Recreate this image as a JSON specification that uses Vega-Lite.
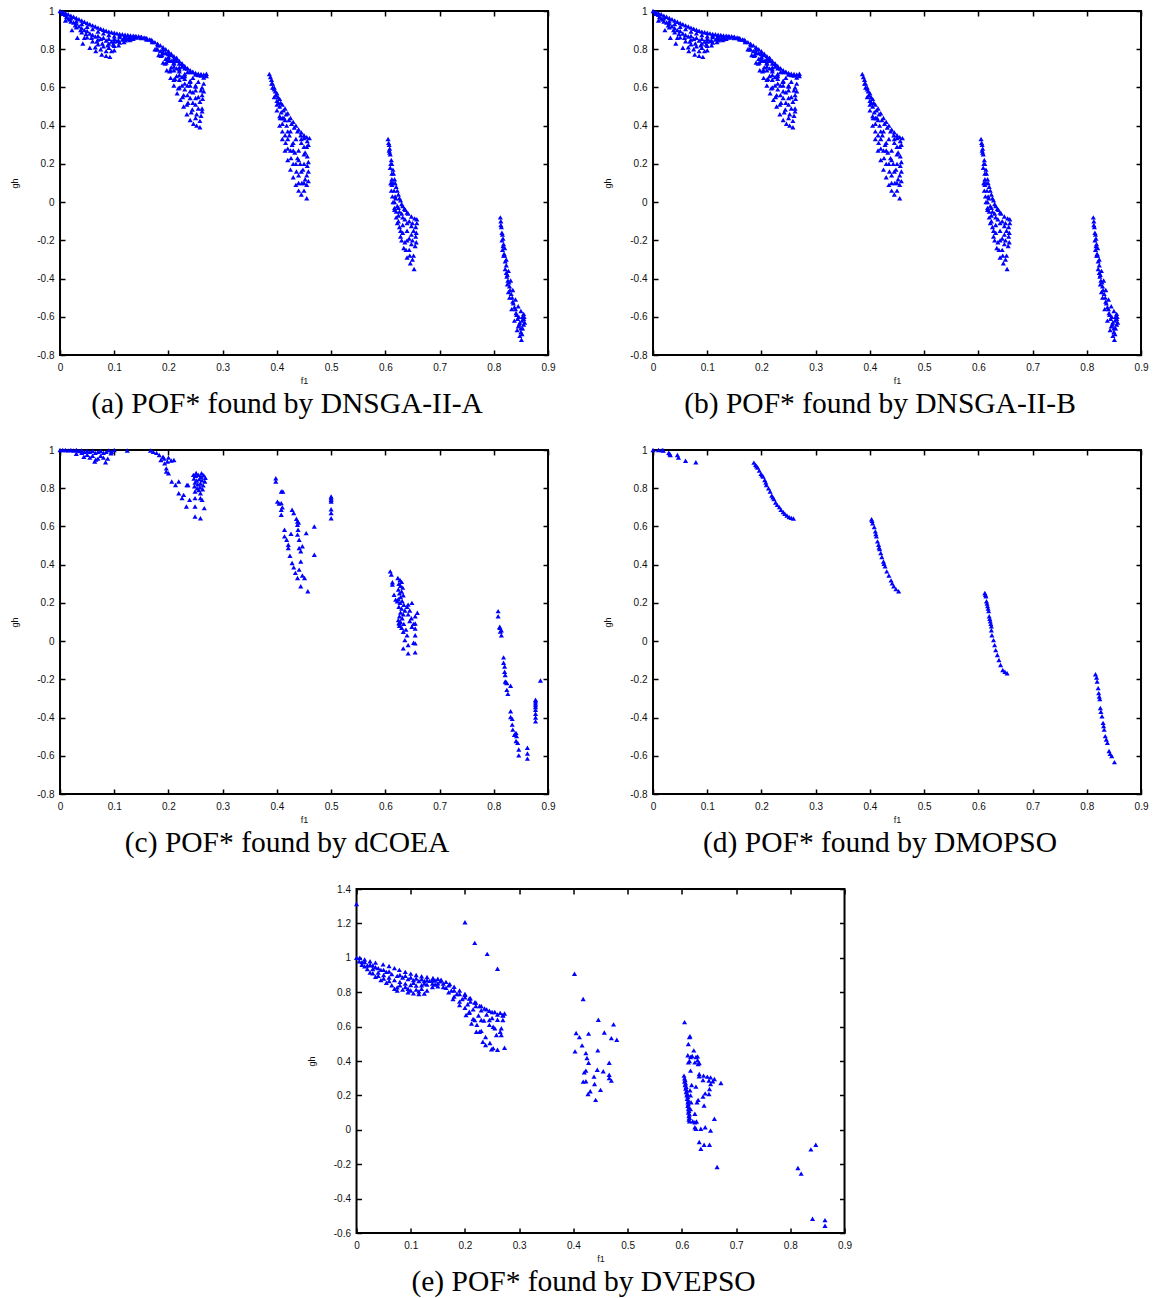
{
"$schema":"https://vega.github.io/schema/vega-lite/v6.json",
"background":"white",
"padding":{"left":9,"top":5,"right":0,"bottom":0},
"spacing":24,
"center":true,
"config":{
 "view":{"stroke":"black","strokeWidth":2},
 "axis":{"domain":false,"grid":false,"tickSize":-5,"tickColor":"black","tickWidth":1.5,"labelFont":"Liberation Sans","labelFontSize":10,"labelColor":"#111","titleFont":"Liberation Sans","titleFontSize":9,"titleFontWeight":"normal","titleColor":"#111","labelFlush":false,"labelOverlap":false},
 "axisX":{"labelPadding":12,"titlePadding":4},
 "axisY":{"labelPadding":11,"titlePadding":17},
 "title":{"font":"Liberation Serif","fontSize":29.5,"fontWeight":"normal","color":"black","anchor":"middle","offset":5,"dx":-17}
},
"datasets":{
"ab":[
{"f1":0,"gh":1},{"f1":0.005,"gh":0.995},{"f1":0.01,"gh":0.99},{"f1":0.015,"gh":0.983},{"f1":0.02,"gh":0.976},{"f1":0.025,"gh":0.97},{"f1":0.03,"gh":0.963},{"f1":0.035,"gh":0.957},{"f1":0.04,"gh":0.95},{"f1":0.045,"gh":0.944},{"f1":0.05,"gh":0.937},{"f1":0.055,"gh":0.931},{"f1":0.06,"gh":0.925},{"f1":0.065,"gh":0.919},{"f1":0.07,"gh":0.913},{"f1":0.075,"gh":0.907},{"f1":0.08,"gh":0.902},{"f1":0.085,"gh":0.897},{"f1":0.09,"gh":0.892},{"f1":0.095,"gh":0.889},{"f1":0.1,"gh":0.886},{"f1":0.105,"gh":0.883},{"f1":0.11,"gh":0.88},{"f1":0.115,"gh":0.878},{"f1":0.12,"gh":0.876},{"f1":0.125,"gh":0.874},{"f1":0.13,"gh":0.872},{"f1":0.135,"gh":0.871},{"f1":0.14,"gh":0.87},{"f1":0.145,"gh":0.868},{"f1":0.15,"gh":0.866},{"f1":0.155,"gh":0.862},{"f1":0.16,"gh":0.857},{"f1":0.165,"gh":0.851},{"f1":0.17,"gh":0.845},{"f1":0.175,"gh":0.837},{"f1":0.18,"gh":0.829},{"f1":0.185,"gh":0.82},{"f1":0.19,"gh":0.81},{"f1":0.195,"gh":0.8},{"f1":0.2,"gh":0.789},{"f1":0.205,"gh":0.777},{"f1":0.21,"gh":0.764},{"f1":0.215,"gh":0.751},{"f1":0.22,"gh":0.738},{"f1":0.225,"gh":0.724},{"f1":0.23,"gh":0.712},{"f1":0.235,"gh":0.7},{"f1":0.24,"gh":0.69},{"f1":0.245,"gh":0.682},{"f1":0.25,"gh":0.676},{"f1":0.255,"gh":0.672},{"f1":0.26,"gh":0.67},{"f1":0.265,"gh":0.668},{"f1":0.27,"gh":0.672},
{"f1":0.01,"gh":0.98},{"f1":0.02,"gh":0.962},{"f1":0.03,"gh":0.946},{"f1":0.04,"gh":0.932},{"f1":0.05,"gh":0.918},{"f1":0.06,"gh":0.905},{"f1":0.07,"gh":0.893},{"f1":0.08,"gh":0.883},{"f1":0.09,"gh":0.874},{"f1":0.1,"gh":0.868},{"f1":0.11,"gh":0.864},{"f1":0.12,"gh":0.862},{"f1":0.13,"gh":0.862},{"f1":0.14,"gh":0.861},{"f1":0.15,"gh":0.858},{"f1":0.16,"gh":0.85},{"f1":0.17,"gh":0.838},{"f1":0.18,"gh":0.82},{"f1":0.19,"gh":0.8},{"f1":0.2,"gh":0.776},{"f1":0.21,"gh":0.75},{"f1":0.22,"gh":0.725},{"f1":0.23,"gh":0.7},{"f1":0.24,"gh":0.68},{"f1":0.25,"gh":0.668},{"f1":0.26,"gh":0.662},{"f1":0.27,"gh":0.66},
{"f1":0.015,"gh":0.96},{"f1":0.025,"gh":0.94},{"f1":0.035,"gh":0.92},{"f1":0.045,"gh":0.9},{"f1":0.055,"gh":0.882},{"f1":0.065,"gh":0.867},{"f1":0.075,"gh":0.855},{"f1":0.085,"gh":0.846},{"f1":0.095,"gh":0.84},{"f1":0.105,"gh":0.843},{"f1":0.115,"gh":0.85},{"f1":0.125,"gh":0.855},{"f1":0.135,"gh":0.855},
{"f1":0.02,"gh":0.945},{"f1":0.03,"gh":0.915},{"f1":0.04,"gh":0.888},{"f1":0.05,"gh":0.862},{"f1":0.06,"gh":0.842},{"f1":0.07,"gh":0.826},{"f1":0.08,"gh":0.815},{"f1":0.09,"gh":0.808},{"f1":0.1,"gh":0.818},{"f1":0.11,"gh":0.835},{"f1":0.12,"gh":0.847},{"f1":0.13,"gh":0.852},
{"f1":0.01,"gh":0.95},{"f1":0.022,"gh":0.9},{"f1":0.032,"gh":0.86},{"f1":0.042,"gh":0.83},{"f1":0.055,"gh":0.808},{"f1":0.066,"gh":0.79},{"f1":0.077,"gh":0.772},{"f1":0.085,"gh":0.765},{"f1":0.092,"gh":0.76},{"f1":0.1,"gh":0.795},{"f1":0.108,"gh":0.82},{"f1":0.118,"gh":0.838},{"f1":0.128,"gh":0.848},
{"f1":0.04,"gh":0.91},{"f1":0.06,"gh":0.875},{"f1":0.08,"gh":0.86},{"f1":0.1,"gh":0.855},{"f1":0.07,"gh":0.85},{"f1":0.09,"gh":0.83},{"f1":0.12,"gh":0.868},{"f1":0.14,"gh":0.864},{"f1":0.05,"gh":0.895},{"f1":0.03,"gh":0.935},{"f1":0.11,"gh":0.872},{"f1":0.16,"gh":0.855},{"f1":0.15,"gh":0.86},
{"f1":0.005,"gh":0.985},{"f1":0.012,"gh":0.97},{"f1":0.018,"gh":0.955},{"f1":0.028,"gh":0.925},{"f1":0.038,"gh":0.9},{"f1":0.048,"gh":0.88},{"f1":0.058,"gh":0.86},{"f1":0.068,"gh":0.84},{"f1":0.078,"gh":0.83},{"f1":0.088,"gh":0.82},{"f1":0.098,"gh":0.825},{"f1":0.108,"gh":0.845},{"f1":0.118,"gh":0.858},{"f1":0.128,"gh":0.864},{"f1":0.138,"gh":0.866},{"f1":0.148,"gh":0.862},{"f1":0.158,"gh":0.858},{"f1":0.168,"gh":0.85},{"f1":0.045,"gh":0.86},{"f1":0.065,"gh":0.81},{"f1":0.075,"gh":0.8},{"f1":0.085,"gh":0.79},{"f1":0.095,"gh":0.79},{"f1":0.07,"gh":0.87},{"f1":0.09,"gh":0.855},{"f1":0.1,"gh":0.84},
{"f1":0.175,"gh":0.8},{"f1":0.182,"gh":0.77},{"f1":0.19,"gh":0.73},{"f1":0.197,"gh":0.69},{"f1":0.204,"gh":0.65},{"f1":0.21,"gh":0.61},{"f1":0.216,"gh":0.57},{"f1":0.222,"gh":0.535},{"f1":0.228,"gh":0.5},{"f1":0.234,"gh":0.46},{"f1":0.24,"gh":0.43},{"f1":0.246,"gh":0.41},{"f1":0.252,"gh":0.4},{"f1":0.258,"gh":0.392},
{"f1":0.178,"gh":0.8},{"f1":0.186,"gh":0.765},{"f1":0.194,"gh":0.725},{"f1":0.202,"gh":0.685},{"f1":0.21,"gh":0.64},{"f1":0.218,"gh":0.595},{"f1":0.226,"gh":0.55},{"f1":0.234,"gh":0.51},{"f1":0.242,"gh":0.47},{"f1":0.25,"gh":0.44},{"f1":0.258,"gh":0.425},
{"f1":0.18,"gh":0.8},{"f1":0.188,"gh":0.77},{"f1":0.196,"gh":0.73},{"f1":0.204,"gh":0.69},{"f1":0.212,"gh":0.645},{"f1":0.22,"gh":0.6},{"f1":0.228,"gh":0.56},{"f1":0.236,"gh":0.52},{"f1":0.244,"gh":0.485},{"f1":0.252,"gh":0.46},{"f1":0.26,"gh":0.452},
{"f1":0.185,"gh":0.79},{"f1":0.195,"gh":0.75},{"f1":0.205,"gh":0.705},{"f1":0.215,"gh":0.66},{"f1":0.225,"gh":0.61},{"f1":0.235,"gh":0.56},{"f1":0.245,"gh":0.52},{"f1":0.255,"gh":0.49},{"f1":0.262,"gh":0.475},
{"f1":0.19,"gh":0.78},{"f1":0.2,"gh":0.74},{"f1":0.21,"gh":0.69},{"f1":0.22,"gh":0.64},{"f1":0.23,"gh":0.59},{"f1":0.24,"gh":0.545},{"f1":0.25,"gh":0.51},{"f1":0.262,"gh":0.49},
{"f1":0.19,"gh":0.785},{"f1":0.2,"gh":0.75},{"f1":0.21,"gh":0.71},{"f1":0.22,"gh":0.665},{"f1":0.23,"gh":0.62},{"f1":0.24,"gh":0.58},{"f1":0.25,"gh":0.545},{"f1":0.258,"gh":0.525},
{"f1":0.195,"gh":0.78},{"f1":0.205,"gh":0.74},{"f1":0.215,"gh":0.7},{"f1":0.225,"gh":0.655},{"f1":0.235,"gh":0.61},{"f1":0.245,"gh":0.575},{"f1":0.255,"gh":0.55},{"f1":0.263,"gh":0.54},
{"f1":0.2,"gh":0.76},{"f1":0.21,"gh":0.725},{"f1":0.22,"gh":0.685},{"f1":0.23,"gh":0.645},{"f1":0.24,"gh":0.61},{"f1":0.25,"gh":0.585},{"f1":0.262,"gh":0.56},
{"f1":0.2,"gh":0.775},{"f1":0.21,"gh":0.74},{"f1":0.22,"gh":0.705},{"f1":0.23,"gh":0.67},{"f1":0.24,"gh":0.635},{"f1":0.25,"gh":0.605},{"f1":0.26,"gh":0.585},{"f1":0.265,"gh":0.58},
{"f1":0.21,"gh":0.73},{"f1":0.22,"gh":0.695},{"f1":0.23,"gh":0.66},{"f1":0.24,"gh":0.63},{"f1":0.25,"gh":0.61},{"f1":0.262,"gh":0.6},
{"f1":0.205,"gh":0.77},{"f1":0.215,"gh":0.74},{"f1":0.225,"gh":0.71},{"f1":0.235,"gh":0.68},{"f1":0.245,"gh":0.65},{"f1":0.255,"gh":0.63},{"f1":0.265,"gh":0.62},
{"f1":0.215,"gh":0.755},{"f1":0.225,"gh":0.725},{"f1":0.235,"gh":0.7},{"f1":0.245,"gh":0.68},{"f1":0.255,"gh":0.665},{"f1":0.265,"gh":0.652},
{"f1":0.386,"gh":0.67},{"f1":0.39,"gh":0.64},{"f1":0.395,"gh":0.6},{"f1":0.4,"gh":0.57},{"f1":0.405,"gh":0.54},{"f1":0.41,"gh":0.51},{"f1":0.415,"gh":0.49},{"f1":0.42,"gh":0.465},{"f1":0.425,"gh":0.44},{"f1":0.43,"gh":0.42},{"f1":0.435,"gh":0.4},{"f1":0.44,"gh":0.38},{"f1":0.445,"gh":0.365},{"f1":0.45,"gh":0.35},{"f1":0.455,"gh":0.34},{"f1":0.46,"gh":0.335},
{"f1":0.388,"gh":0.655},{"f1":0.392,"gh":0.62},{"f1":0.397,"gh":0.58},{"f1":0.402,"gh":0.55},{"f1":0.407,"gh":0.52},{"f1":0.412,"gh":0.48},{"f1":0.417,"gh":0.46},{"f1":0.422,"gh":0.43},{"f1":0.427,"gh":0.41},{"f1":0.432,"gh":0.39},{"f1":0.438,"gh":0.37},{"f1":0.444,"gh":0.35},{"f1":0.45,"gh":0.335},{"f1":0.456,"gh":0.32},
{"f1":0.392,"gh":0.6},{"f1":0.398,"gh":0.56},{"f1":0.403,"gh":0.52},{"f1":0.408,"gh":0.47},{"f1":0.413,"gh":0.44},{"f1":0.418,"gh":0.4},{"f1":0.423,"gh":0.35},{"f1":0.428,"gh":0.3},{"f1":0.433,"gh":0.26},{"f1":0.438,"gh":0.23},{"f1":0.443,"gh":0.2},{"f1":0.448,"gh":0.17},{"f1":0.452,"gh":0.12},{"f1":0.446,"gh":0.1},{"f1":0.436,"gh":0.16},{"f1":0.426,"gh":0.23},{"f1":0.416,"gh":0.31},{"f1":0.406,"gh":0.44},{"f1":0.45,"gh":0.29},{"f1":0.445,"gh":0.33},{"f1":0.452,"gh":0.26},{"f1":0.458,"gh":0.3},{"f1":0.458,"gh":0.21},{"f1":0.458,"gh":0.16},{"f1":0.458,"gh":0.11},{"f1":0.45,"gh":0.06},{"f1":0.44,"gh":0.1},
{"f1":0.39,"gh":0.62},{"f1":0.395,"gh":0.55},{"f1":0.4,"gh":0.48},{"f1":0.405,"gh":0.4},{"f1":0.41,"gh":0.33},{"f1":0.415,"gh":0.27},{"f1":0.42,"gh":0.22},{"f1":0.425,"gh":0.17},{"f1":0.43,"gh":0.13},{"f1":0.435,"gh":0.09},{"f1":0.44,"gh":0.06},{"f1":0.445,"gh":0.04},{"f1":0.455,"gh":0.02},
{"f1":0.395,"gh":0.59},{"f1":0.405,"gh":0.5},{"f1":0.415,"gh":0.43},{"f1":0.425,"gh":0.37},{"f1":0.435,"gh":0.33},{"f1":0.445,"gh":0.31},{"f1":0.455,"gh":0.29},
{"f1":0.4,"gh":0.53},{"f1":0.41,"gh":0.44},{"f1":0.42,"gh":0.37},{"f1":0.43,"gh":0.31},{"f1":0.44,"gh":0.27},{"f1":0.45,"gh":0.25},{"f1":0.456,"gh":0.24},
{"f1":0.4,"gh":0.51},{"f1":0.41,"gh":0.41},{"f1":0.42,"gh":0.33},{"f1":0.43,"gh":0.27},{"f1":0.44,"gh":0.22},{"f1":0.45,"gh":0.2},{"f1":0.456,"gh":0.19},
{"f1":0.405,"gh":0.45},{"f1":0.415,"gh":0.35},{"f1":0.425,"gh":0.27},{"f1":0.435,"gh":0.2},{"f1":0.445,"gh":0.16},{"f1":0.455,"gh":0.14},
{"f1":0.41,"gh":0.37},{"f1":0.42,"gh":0.28},{"f1":0.43,"gh":0.2},{"f1":0.44,"gh":0.14},{"f1":0.45,"gh":0.1},{"f1":0.455,"gh":0.09},
{"f1":0.605,"gh":0.33},{"f1":0.608,"gh":0.28},{"f1":0.611,"gh":0.22},{"f1":0.614,"gh":0.17},{"f1":0.617,"gh":0.12},{"f1":0.62,"gh":0.08},{"f1":0.624,"gh":0.04},{"f1":0.628,"gh":0.01},{"f1":0.632,"gh":-0.02},{"f1":0.637,"gh":-0.04},{"f1":0.642,"gh":-0.06},{"f1":0.648,"gh":-0.075},{"f1":0.654,"gh":-0.085},{"f1":0.658,"gh":-0.09},
{"f1":0.607,"gh":0.3},{"f1":0.609,"gh":0.25},{"f1":0.612,"gh":0.2},{"f1":0.615,"gh":0.15},{"f1":0.618,"gh":0.1},{"f1":0.622,"gh":0.06},{"f1":0.626,"gh":0.02},{"f1":0.63,"gh":-0.01},{"f1":0.635,"gh":-0.035},{"f1":0.64,"gh":-0.055},
{"f1":0.606,"gh":0.31},{"f1":0.608,"gh":0.26},{"f1":0.61,"gh":0.2},{"f1":0.612,"gh":0.15},{"f1":0.614,"gh":0.1},{"f1":0.616,"gh":0.06},{"f1":0.619,"gh":0.02},{"f1":0.622,"gh":-0.02},{"f1":0.626,"gh":-0.05},{"f1":0.63,"gh":-0.06},{"f1":0.636,"gh":-0.09},{"f1":0.644,"gh":-0.1},{"f1":0.65,"gh":-0.11},{"f1":0.652,"gh":-0.15},{"f1":0.65,"gh":-0.2},{"f1":0.657,"gh":-0.16},{"f1":0.657,"gh":-0.21},{"f1":0.645,"gh":-0.28},{"f1":0.65,"gh":-0.3},{"f1":0.638,"gh":-0.25},{"f1":0.626,"gh":-0.13},{"f1":0.62,"gh":-0.05},{"f1":0.63,"gh":-0.2},{"f1":0.644,"gh":-0.19},{"f1":0.658,"gh":-0.11},
{"f1":0.607,"gh":0.27},{"f1":0.609,"gh":0.18},{"f1":0.611,"gh":0.1},{"f1":0.613,"gh":0.03},{"f1":0.617,"gh":-0.04},{"f1":0.622,"gh":-0.11},{"f1":0.628,"gh":-0.18},{"f1":0.634,"gh":-0.24},{"f1":0.64,"gh":-0.29},{"f1":0.646,"gh":-0.32},{"f1":0.653,"gh":-0.35},
{"f1":0.612,"gh":0.12},{"f1":0.618,"gh":0.03},{"f1":0.624,"gh":-0.03},{"f1":0.632,"gh":-0.08},{"f1":0.64,"gh":-0.11},{"f1":0.648,"gh":-0.125},{"f1":0.656,"gh":-0.13},
{"f1":0.612,"gh":0.09},{"f1":0.617,"gh":0.0},{"f1":0.624,"gh":-0.07},{"f1":0.632,"gh":-0.12},{"f1":0.64,"gh":-0.15},{"f1":0.648,"gh":-0.17},{"f1":0.656,"gh":-0.18},
{"f1":0.611,"gh":0.06},{"f1":0.617,"gh":-0.03},{"f1":0.624,"gh":-0.1},{"f1":0.632,"gh":-0.16},{"f1":0.64,"gh":-0.2},{"f1":0.648,"gh":-0.22},{"f1":0.655,"gh":-0.23},
{"f1":0.61,"gh":0.1},{"f1":0.614,"gh":0.0},{"f1":0.62,"gh":-0.08},{"f1":0.628,"gh":-0.15},{"f1":0.636,"gh":-0.21},{"f1":0.644,"gh":-0.25},{"f1":0.652,"gh":-0.28},
{"f1":0.812,"gh":-0.08},{"f1":0.814,"gh":-0.13},{"f1":0.817,"gh":-0.19},{"f1":0.82,"gh":-0.24},{"f1":0.823,"gh":-0.3},{"f1":0.827,"gh":-0.36},{"f1":0.831,"gh":-0.41},{"f1":0.835,"gh":-0.46},{"f1":0.84,"gh":-0.51},{"f1":0.845,"gh":-0.545},{"f1":0.85,"gh":-0.57},{"f1":0.855,"gh":-0.585},
{"f1":0.813,"gh":-0.12},{"f1":0.815,"gh":-0.2},{"f1":0.818,"gh":-0.28},{"f1":0.821,"gh":-0.35},{"f1":0.825,"gh":-0.43},{"f1":0.829,"gh":-0.5},{"f1":0.833,"gh":-0.56},{"f1":0.838,"gh":-0.62},{"f1":0.843,"gh":-0.67},{"f1":0.848,"gh":-0.7},{"f1":0.851,"gh":-0.72},
{"f1":0.816,"gh":-0.17},{"f1":0.82,"gh":-0.28},{"f1":0.825,"gh":-0.38},{"f1":0.83,"gh":-0.46},{"f1":0.836,"gh":-0.53},{"f1":0.842,"gh":-0.59},{"f1":0.848,"gh":-0.63},{"f1":0.853,"gh":-0.66},
{"f1":0.818,"gh":-0.22},{"f1":0.823,"gh":-0.33},{"f1":0.828,"gh":-0.42},{"f1":0.834,"gh":-0.5},{"f1":0.84,"gh":-0.56},{"f1":0.846,"gh":-0.6},{"f1":0.852,"gh":-0.62},
{"f1":0.845,"gh":-0.65},{"f1":0.85,"gh":-0.68},{"f1":0.855,"gh":-0.64},{"f1":0.855,"gh":-0.61},
{"f1":0.813,"gh":-0.1},{"f1":0.815,"gh":-0.16},{"f1":0.817,"gh":-0.23},{"f1":0.819,"gh":-0.27},{"f1":0.821,"gh":-0.31},{"f1":0.823,"gh":-0.37},{"f1":0.826,"gh":-0.41},{"f1":0.829,"gh":-0.44},{"f1":0.832,"gh":-0.48},{"f1":0.835,"gh":-0.52},{"f1":0.838,"gh":-0.55},{"f1":0.841,"gh":-0.58},{"f1":0.844,"gh":-0.61},{"f1":0.847,"gh":-0.64},{"f1":0.85,"gh":-0.66},{"f1":0.853,"gh":-0.6},{"f1":0.856,"gh":-0.6},{"f1":0.857,"gh":-0.63},{"f1":0.852,"gh":-0.69},{"f1":0.824,"gh":-0.39},{"f1":0.827,"gh":-0.47},{"f1":0.816,"gh":-0.25}
],
"c":[
{"f1":0,"gh":1},{"f1":0.005,"gh":1},{"f1":0.01,"gh":1},{"f1":0.015,"gh":0.998},{"f1":0.02,"gh":1},{"f1":0.025,"gh":0.997},{"f1":0.03,"gh":1},{"f1":0.035,"gh":0.995},{"f1":0.04,"gh":0.998},{"f1":0.045,"gh":0.99},{"f1":0.05,"gh":0.995},{"f1":0.055,"gh":0.99},{"f1":0.06,"gh":0.996},{"f1":0.065,"gh":0.985},{"f1":0.07,"gh":0.99},{"f1":0.075,"gh":0.995},{"f1":0.08,"gh":0.985},{"f1":0.085,"gh":0.99},{"f1":0.09,"gh":0.998},{"f1":0.095,"gh":0.99},{"f1":0.03,"gh":0.98},{"f1":0.044,"gh":0.965},{"f1":0.05,"gh":0.975},{"f1":0.055,"gh":0.96},{"f1":0.06,"gh":0.97},{"f1":0.064,"gh":0.94},{"f1":0.07,"gh":0.955},{"f1":0.075,"gh":0.97},{"f1":0.08,"gh":0.96},{"f1":0.084,"gh":0.936},{"f1":0.088,"gh":0.955},{"f1":0.094,"gh":0.983},{"f1":0.04,"gh":0.985},{"f1":0.066,"gh":0.95},{"f1":0.1,"gh":1},{"f1":0.124,"gh":0.997},
{"f1":0.167,"gh":0.997},{"f1":0.172,"gh":0.99},{"f1":0.178,"gh":0.985},{"f1":0.183,"gh":0.974},{"f1":0.19,"gh":0.965},{"f1":0.186,"gh":0.948},{"f1":0.192,"gh":0.955},{"f1":0.21,"gh":0.948},{"f1":0.193,"gh":0.93},{"f1":0.196,"gh":0.904},{"f1":0.2,"gh":0.878},{"f1":0.198,"gh":0.94},{"f1":0.2,"gh":0.96},{"f1":0.206,"gh":0.835},{"f1":0.213,"gh":0.817},{"f1":0.219,"gh":0.835},{"f1":0.219,"gh":0.774},{"f1":0.225,"gh":0.748},{"f1":0.233,"gh":0.704},{"f1":0.236,"gh":0.817},{"f1":0.239,"gh":0.739},{"f1":0.205,"gh":0.945},{"f1":0.196,"gh":0.887},{"f1":0.228,"gh":0.765},{"f1":0.234,"gh":0.817},
{"f1":0.246,"gh":0.87},{"f1":0.25,"gh":0.865},{"f1":0.255,"gh":0.87},{"f1":0.26,"gh":0.86},{"f1":0.265,"gh":0.868},{"f1":0.268,"gh":0.855},{"f1":0.247,"gh":0.85},{"f1":0.252,"gh":0.84},{"f1":0.257,"gh":0.848},{"f1":0.262,"gh":0.842},{"f1":0.267,"gh":0.835},{"f1":0.249,"gh":0.83},{"f1":0.254,"gh":0.82},{"f1":0.259,"gh":0.825},{"f1":0.264,"gh":0.815},{"f1":0.248,"gh":0.81},{"f1":0.253,"gh":0.8},{"f1":0.258,"gh":0.805},{"f1":0.263,"gh":0.795},{"f1":0.249,"gh":0.783},{"f1":0.259,"gh":0.774},{"f1":0.249,"gh":0.748},{"f1":0.259,"gh":0.748},{"f1":0.262,"gh":0.739},{"f1":0.249,"gh":0.704},{"f1":0.266,"gh":0.696},{"f1":0.249,"gh":0.652},{"f1":0.259,"gh":0.643},{"f1":0.256,"gh":0.79},{"f1":0.251,"gh":0.88},{"f1":0.261,"gh":0.878},
{"f1":0.398,"gh":0.852},{"f1":0.398,"gh":0.835},{"f1":0.408,"gh":0.783},{"f1":0.411,"gh":0.783},{"f1":0.401,"gh":0.73},{"f1":0.408,"gh":0.722},{"f1":0.408,"gh":0.687},{"f1":0.408,"gh":0.661},{"f1":0.414,"gh":0.583},{"f1":0.414,"gh":0.548},{"f1":0.418,"gh":0.53},{"f1":0.421,"gh":0.504},{"f1":0.421,"gh":0.487},{"f1":0.424,"gh":0.447},{"f1":0.428,"gh":0.409},{"f1":0.431,"gh":0.386},{"f1":0.434,"gh":0.357},{"f1":0.438,"gh":0.33},{"f1":0.444,"gh":0.287},{"f1":0.457,"gh":0.261},{"f1":0.428,"gh":0.687},{"f1":0.431,"gh":0.67},{"f1":0.426,"gh":0.562},{"f1":0.438,"gh":0.626},{"f1":0.438,"gh":0.609},{"f1":0.439,"gh":0.583},{"f1":0.438,"gh":0.557},{"f1":0.441,"gh":0.53},{"f1":0.441,"gh":0.487},{"f1":0.444,"gh":0.47},{"f1":0.447,"gh":0.496},{"f1":0.444,"gh":0.417},{"f1":0.441,"gh":0.374},{"f1":0.447,"gh":0.343},{"f1":0.451,"gh":0.33},{"f1":0.454,"gh":0.565},{"f1":0.469,"gh":0.6},{"f1":0.469,"gh":0.452},{"f1":0.436,"gh":0.64},{"f1":0.44,"gh":0.62},{"f1":0.404,"gh":0.72},{"f1":0.41,"gh":0.7},
{"f1":0.5,"gh":0.757},{"f1":0.5,"gh":0.748},{"f1":0.5,"gh":0.73},{"f1":0.5,"gh":0.69},{"f1":0.5,"gh":0.67},{"f1":0.5,"gh":0.643},{"f1":0.5,"gh":0.74},
{"f1":0.623,"gh":0.33},{"f1":0.627,"gh":0.32},{"f1":0.63,"gh":0.31},{"f1":0.625,"gh":0.3},{"f1":0.628,"gh":0.29},{"f1":0.632,"gh":0.28},{"f1":0.624,"gh":0.27},{"f1":0.63,"gh":0.26},{"f1":0.626,"gh":0.25},{"f1":0.633,"gh":0.24},{"f1":0.628,"gh":0.23},{"f1":0.624,"gh":0.22},{"f1":0.631,"gh":0.21},{"f1":0.627,"gh":0.2},{"f1":0.634,"gh":0.19},{"f1":0.625,"gh":0.18},{"f1":0.63,"gh":0.17},{"f1":0.636,"gh":0.16},{"f1":0.628,"gh":0.15},{"f1":0.633,"gh":0.14},{"f1":0.626,"gh":0.13},{"f1":0.631,"gh":0.12},{"f1":0.624,"gh":0.11},{"f1":0.628,"gh":0.1},{"f1":0.634,"gh":0.09},{"f1":0.626,"gh":0.08},{"f1":0.63,"gh":0.07},{"f1":0.625,"gh":0.095},{"f1":0.64,"gh":0.18},{"f1":0.645,"gh":0.16},{"f1":0.642,"gh":0.14},{"f1":0.648,"gh":0.12},{"f1":0.645,"gh":0.105},{"f1":0.652,"gh":0.09},
{"f1":0.609,"gh":0.365},{"f1":0.611,"gh":0.348},{"f1":0.613,"gh":0.308},{"f1":0.613,"gh":0.296},{"f1":0.616,"gh":0.243},{"f1":0.619,"gh":0.217},{"f1":0.622,"gh":0.209},{"f1":0.642,"gh":0.191},{"f1":0.659,"gh":0.148},{"f1":0.655,"gh":0.13},{"f1":0.649,"gh":0.2},
{"f1":0.626,"gh":0.092},{"f1":0.633,"gh":0.049},{"f1":0.636,"gh":0.005},{"f1":0.633,"gh":-0.038},{"f1":0.642,"gh":-0.021},{"f1":0.642,"gh":-0.064},{"f1":0.649,"gh":0.075},{"f1":0.655,"gh":0.092},{"f1":0.655,"gh":0.066},{"f1":0.655,"gh":0.031},{"f1":0.652,"gh":-0.009},{"f1":0.655,"gh":-0.012},{"f1":0.655,"gh":-0.059},{"f1":0.64,"gh":0.03},{"f1":0.638,"gh":0.06},
{"f1":0.808,"gh":0.157},{"f1":0.808,"gh":0.13},{"f1":0.811,"gh":0.07},{"f1":0.811,"gh":0.075},{"f1":0.814,"gh":0.057},{"f1":0.814,"gh":0.031},{"f1":0.812,"gh":0.05},{"f1":0.818,"gh":-0.085},{"f1":0.818,"gh":-0.113},{"f1":0.82,"gh":-0.133},{"f1":0.82,"gh":-0.16},{"f1":0.821,"gh":-0.177},{"f1":0.821,"gh":-0.211},{"f1":0.824,"gh":-0.22},{"f1":0.824,"gh":-0.255},{"f1":0.826,"gh":-0.276},{"f1":0.831,"gh":-0.234},{"f1":0.831,"gh":-0.367},{"f1":0.831,"gh":-0.397},{"f1":0.834,"gh":-0.407},{"f1":0.834,"gh":-0.437},{"f1":0.835,"gh":-0.463},{"f1":0.839,"gh":-0.489},{"f1":0.841,"gh":-0.48},{"f1":0.842,"gh":-0.497},{"f1":0.844,"gh":-0.532},{"f1":0.841,"gh":-0.523},{"f1":0.846,"gh":-0.567},{"f1":0.846,"gh":-0.598},{"f1":0.862,"gh":-0.558},{"f1":0.862,"gh":-0.588},{"f1":0.862,"gh":-0.615},{"f1":0.823,"gh":-0.215},{"f1":0.838,"gh":-0.49},
{"f1":0.877,"gh":-0.307},{"f1":0.877,"gh":-0.315},{"f1":0.877,"gh":-0.325},{"f1":0.877,"gh":-0.335},{"f1":0.877,"gh":-0.345},{"f1":0.877,"gh":-0.36},{"f1":0.877,"gh":-0.38},{"f1":0.877,"gh":-0.4},{"f1":0.877,"gh":-0.42},{"f1":0.886,"gh":-0.206}
],
"d":[
{"f1":0,"gh":1},{"f1":0.01,"gh":1},{"f1":0.017,"gh":1},{"f1":0.019,"gh":0.997},{"f1":0.029,"gh":0.986},{"f1":0.031,"gh":0.979},{"f1":0.032,"gh":0.974},{"f1":0.045,"gh":0.974},{"f1":0.047,"gh":0.96},{"f1":0.06,"gh":0.944},{"f1":0.079,"gh":0.936},
{"f1":0.186,"gh":0.934},{"f1":0.189,"gh":0.922},{"f1":0.191,"gh":0.915},{"f1":0.193,"gh":0.908},{"f1":0.196,"gh":0.892},{"f1":0.199,"gh":0.875},{"f1":0.201,"gh":0.868},{"f1":0.203,"gh":0.861},{"f1":0.206,"gh":0.843},{"f1":0.208,"gh":0.83},{"f1":0.209,"gh":0.817},{"f1":0.213,"gh":0.8},{"f1":0.216,"gh":0.783},{"f1":0.219,"gh":0.762},{"f1":0.221,"gh":0.752},{"f1":0.223,"gh":0.743},{"f1":0.226,"gh":0.725},{"f1":0.229,"gh":0.713},{"f1":0.233,"gh":0.701},{"f1":0.236,"gh":0.687},{"f1":0.24,"gh":0.676},{"f1":0.243,"gh":0.666},{"f1":0.247,"gh":0.657},{"f1":0.251,"gh":0.649},{"f1":0.255,"gh":0.645},{"f1":0.259,"gh":0.642},
{"f1":0.403,"gh":0.638},{"f1":0.405,"gh":0.617},{"f1":0.408,"gh":0.597},{"f1":0.41,"gh":0.574},{"f1":0.412,"gh":0.548},{"f1":0.414,"gh":0.522},{"f1":0.416,"gh":0.504},{"f1":0.418,"gh":0.482},{"f1":0.42,"gh":0.461},{"f1":0.422,"gh":0.44},{"f1":0.425,"gh":0.417},{"f1":0.428,"gh":0.391},{"f1":0.431,"gh":0.365},{"f1":0.435,"gh":0.343},{"f1":0.439,"gh":0.318},{"f1":0.441,"gh":0.302},{"f1":0.444,"gh":0.287},{"f1":0.448,"gh":0.272},{"f1":0.453,"gh":0.261},{"f1":0.404,"gh":0.63},{"f1":0.411,"gh":0.56},{"f1":0.417,"gh":0.49},{"f1":0.426,"gh":0.405},
{"f1":0.612,"gh":0.252},{"f1":0.613,"gh":0.243},{"f1":0.614,"gh":0.235},{"f1":0.615,"gh":0.209},{"f1":0.616,"gh":0.196},{"f1":0.617,"gh":0.183},{"f1":0.619,"gh":0.157},{"f1":0.62,"gh":0.13},{"f1":0.622,"gh":0.104},{"f1":0.624,"gh":0.078},{"f1":0.624,"gh":0.057},{"f1":0.625,"gh":0.031},{"f1":0.628,"gh":0.005},{"f1":0.63,"gh":-0.021},{"f1":0.632,"gh":-0.047},{"f1":0.635,"gh":-0.073},{"f1":0.638,"gh":-0.099},{"f1":0.641,"gh":-0.125},{"f1":0.645,"gh":-0.151},{"f1":0.649,"gh":-0.16},{"f1":0.653,"gh":-0.168},{"f1":0.621,"gh":0.117},{"f1":0.618,"gh":0.17},{"f1":0.623,"gh":0.09},
{"f1":0.816,"gh":-0.173},{"f1":0.818,"gh":-0.19},{"f1":0.819,"gh":-0.211},{"f1":0.821,"gh":-0.246},{"f1":0.822,"gh":-0.272},{"f1":0.823,"gh":-0.29},{"f1":0.824,"gh":-0.303},{"f1":0.825,"gh":-0.35},{"f1":0.826,"gh":-0.37},{"f1":0.828,"gh":-0.393},{"f1":0.83,"gh":-0.428},{"f1":0.831,"gh":-0.445},{"f1":0.832,"gh":-0.463},{"f1":0.834,"gh":-0.497},{"f1":0.836,"gh":-0.515},{"f1":0.838,"gh":-0.532},{"f1":0.841,"gh":-0.575},{"f1":0.843,"gh":-0.59},{"f1":0.846,"gh":-0.601},{"f1":0.851,"gh":-0.633}
],
"e":[
{"f1":0,"gh":1.313},{"f1":0.2,"gh":1.207},{"f1":0.218,"gh":1.087},{"f1":0.241,"gh":1.023},{"f1":0.26,"gh":0.936},
{"f1":0,"gh":1.0},{"f1":0.006,"gh":1.0},{"f1":0.015,"gh":0.99},{"f1":0.025,"gh":0.98},{"f1":0.035,"gh":0.972},{"f1":0.049,"gh":0.962},{"f1":0.06,"gh":0.952},{"f1":0.07,"gh":0.94},{"f1":0.079,"gh":0.93},{"f1":0.09,"gh":0.918},{"f1":0.1,"gh":0.908},{"f1":0.11,"gh":0.9},{"f1":0.12,"gh":0.893},{"f1":0.13,"gh":0.888},{"f1":0.141,"gh":0.883},{"f1":0.15,"gh":0.878},{"f1":0.156,"gh":0.872},{"f1":0.165,"gh":0.86},{"f1":0.172,"gh":0.848},{"f1":0.18,"gh":0.832},{"f1":0.19,"gh":0.81},{"f1":0.2,"gh":0.785},{"f1":0.208,"gh":0.763},{"f1":0.218,"gh":0.74},{"f1":0.227,"gh":0.72},{"f1":0.236,"gh":0.705},{"f1":0.245,"gh":0.692},{"f1":0.255,"gh":0.685},{"f1":0.265,"gh":0.68},{"f1":0.273,"gh":0.676},
{"f1":0.005,"gh":0.98},{"f1":0.015,"gh":0.95},{"f1":0.025,"gh":0.915},{"f1":0.035,"gh":0.89},{"f1":0.045,"gh":0.87},{"f1":0.055,"gh":0.855},{"f1":0.065,"gh":0.84},{"f1":0.075,"gh":0.828},{"f1":0.085,"gh":0.815},{"f1":0.095,"gh":0.8},{"f1":0.105,"gh":0.793},{"f1":0.115,"gh":0.79},{"f1":0.125,"gh":0.792},{"f1":0.13,"gh":0.81},{"f1":0.14,"gh":0.83},{"f1":0.15,"gh":0.835},{"f1":0.16,"gh":0.83},
{"f1":0.01,"gh":0.975},{"f1":0.02,"gh":0.955},{"f1":0.03,"gh":0.935},{"f1":0.04,"gh":0.915},{"f1":0.05,"gh":0.9},{"f1":0.06,"gh":0.885},{"f1":0.07,"gh":0.87},{"f1":0.08,"gh":0.86},{"f1":0.09,"gh":0.85},{"f1":0.1,"gh":0.842},{"f1":0.11,"gh":0.838},{"f1":0.12,"gh":0.84},{"f1":0.13,"gh":0.845},{"f1":0.14,"gh":0.85},{"f1":0.15,"gh":0.852},{"f1":0.16,"gh":0.85},{"f1":0.17,"gh":0.84},
{"f1":0.015,"gh":0.975},{"f1":0.025,"gh":0.96},{"f1":0.035,"gh":0.945},{"f1":0.045,"gh":0.93},{"f1":0.055,"gh":0.918},{"f1":0.065,"gh":0.905},{"f1":0.075,"gh":0.895},{"f1":0.085,"gh":0.885},{"f1":0.095,"gh":0.876},{"f1":0.105,"gh":0.87},{"f1":0.115,"gh":0.865},{"f1":0.125,"gh":0.865},{"f1":0.135,"gh":0.866},{"f1":0.145,"gh":0.868},{"f1":0.155,"gh":0.864},
{"f1":0.01,"gh":0.96},{"f1":0.02,"gh":0.935},{"f1":0.03,"gh":0.91},{"f1":0.04,"gh":0.895},{"f1":0.05,"gh":0.88},{"f1":0.06,"gh":0.865},{"f1":0.03,"gh":0.955},{"f1":0.04,"gh":0.94},{"f1":0.05,"gh":0.93},{"f1":0.06,"gh":0.92},{"f1":0.08,"gh":0.9},{"f1":0.09,"gh":0.895},{"f1":0.1,"gh":0.885},{"f1":0.11,"gh":0.88},{"f1":0.12,"gh":0.875},{"f1":0.13,"gh":0.87},{"f1":0.14,"gh":0.87},{"f1":0.105,"gh":0.855},{"f1":0.125,"gh":0.85},{"f1":0.145,"gh":0.845},
{"f1":0.07,"gh":0.82},{"f1":0.075,"gh":0.81},{"f1":0.09,"gh":0.83},{"f1":0.095,"gh":0.82},{"f1":0.1,"gh":0.81},{"f1":0.11,"gh":0.815},{"f1":0.12,"gh":0.82},{"f1":0.115,"gh":0.805},{"f1":0.08,"gh":0.84},
{"f1":0.17,"gh":0.8},{"f1":0.18,"gh":0.775},{"f1":0.19,"gh":0.745},{"f1":0.2,"gh":0.71},{"f1":0.208,"gh":0.68},{"f1":0.215,"gh":0.645},{"f1":0.222,"gh":0.61},{"f1":0.23,"gh":0.575},{"f1":0.238,"gh":0.54},{"f1":0.246,"gh":0.505},{"f1":0.252,"gh":0.475},{"f1":0.26,"gh":0.465},
{"f1":0.165,"gh":0.825},{"f1":0.175,"gh":0.81},{"f1":0.185,"gh":0.79},{"f1":0.195,"gh":0.76},{"f1":0.205,"gh":0.73},{"f1":0.215,"gh":0.7},{"f1":0.225,"gh":0.665},{"f1":0.235,"gh":0.635},{"f1":0.245,"gh":0.61},{"f1":0.255,"gh":0.59},{"f1":0.265,"gh":0.57},
{"f1":0.18,"gh":0.81},{"f1":0.19,"gh":0.79},{"f1":0.2,"gh":0.77},{"f1":0.21,"gh":0.745},{"f1":0.22,"gh":0.72},{"f1":0.23,"gh":0.695},{"f1":0.24,"gh":0.67},{"f1":0.25,"gh":0.65},{"f1":0.26,"gh":0.64},{"f1":0.27,"gh":0.638},
{"f1":0.2,"gh":0.79},{"f1":0.21,"gh":0.765},{"f1":0.22,"gh":0.74},{"f1":0.23,"gh":0.72},{"f1":0.24,"gh":0.7},{"f1":0.25,"gh":0.685},{"f1":0.26,"gh":0.67},{"f1":0.27,"gh":0.665},
{"f1":0.212,"gh":0.618},{"f1":0.221,"gh":0.57},{"f1":0.233,"gh":0.512},{"f1":0.249,"gh":0.468},{"f1":0.273,"gh":0.477},{"f1":0.238,"gh":0.493},{"f1":0.267,"gh":0.551},{"f1":0.258,"gh":0.551},{"f1":0.252,"gh":0.599},{"f1":0.267,"gh":0.59},{"f1":0.27,"gh":0.667},{"f1":0.245,"gh":0.638},{"f1":0.23,"gh":0.638},{"f1":0.227,"gh":0.57},{"f1":0.218,"gh":0.638},{"f1":0.208,"gh":0.686},{"f1":0.178,"gh":0.76},{"f1":0.19,"gh":0.725},{"f1":0.202,"gh":0.667},
{"f1":0.402,"gh":0.907},{"f1":0.418,"gh":0.76},{"f1":0.446,"gh":0.64},{"f1":0.474,"gh":0.613},{"f1":0.405,"gh":0.563},{"f1":0.411,"gh":0.539},{"f1":0.428,"gh":0.559},{"f1":0.416,"gh":0.491},{"f1":0.457,"gh":0.566},{"f1":0.47,"gh":0.533},{"f1":0.48,"gh":0.524},{"f1":0.403,"gh":0.456},{"f1":0.423,"gh":0.446},{"f1":0.445,"gh":0.462},{"f1":0.425,"gh":0.417},{"f1":0.428,"gh":0.39},{"f1":0.466,"gh":0.39},{"f1":0.444,"gh":0.349},{"f1":0.423,"gh":0.344},{"f1":0.42,"gh":0.334},{"f1":0.438,"gh":0.309},{"f1":0.455,"gh":0.34},{"f1":0.466,"gh":0.32},{"f1":0.466,"gh":0.301},{"f1":0.47,"gh":0.286},{"f1":0.418,"gh":0.28},{"f1":0.423,"gh":0.282},{"f1":0.439,"gh":0.266},{"f1":0.431,"gh":0.224},{"f1":0.427,"gh":0.208},{"f1":0.45,"gh":0.232},{"f1":0.441,"gh":0.174},
{"f1":0.605,"gh":0.626},{"f1":0.612,"gh":0.499},{"f1":0.614,"gh":0.539},{"f1":0.615,"gh":0.544},{"f1":0.611,"gh":0.433},{"f1":0.616,"gh":0.423},{"f1":0.619,"gh":0.429},{"f1":0.622,"gh":0.462},{"f1":0.626,"gh":0.423},{"f1":0.629,"gh":0.427},{"f1":0.629,"gh":0.404},{"f1":0.632,"gh":0.388},{"f1":0.614,"gh":0.4},{"f1":0.612,"gh":0.392},{"f1":0.624,"gh":0.392},{"f1":0.63,"gh":0.382},{"f1":0.616,"gh":0.344},{"f1":0.632,"gh":0.324},{"f1":0.632,"gh":0.311},{"f1":0.64,"gh":0.315},{"f1":0.647,"gh":0.309},{"f1":0.653,"gh":0.305},{"f1":0.66,"gh":0.295},{"f1":0.657,"gh":0.282},{"f1":0.65,"gh":0.286},{"f1":0.653,"gh":0.266},{"f1":0.651,"gh":0.237},{"f1":0.639,"gh":0.29},{"f1":0.672,"gh":0.272},{"f1":0.626,"gh":0.251},{"f1":0.643,"gh":0.212},{"f1":0.65,"gh":0.208},{"f1":0.639,"gh":0.193},{"f1":0.63,"gh":0.174},{"f1":0.628,"gh":0.16},{"f1":0.641,"gh":0.141},{"f1":0.624,"gh":0.093},{"f1":0.66,"gh":0.064},{"f1":0.624,"gh":0.044},{"f1":0.627,"gh":0.048},{"f1":0.624,"gh":0.015},{"f1":0.626,"gh":0.006},{"f1":0.635,"gh":0.006},{"f1":0.643,"gh":0.015},{"f1":0.653,"gh":-0.004},{"f1":0.632,"gh":-0.071},{"f1":0.641,"gh":-0.087},{"f1":0.651,"gh":-0.087},{"f1":0.635,"gh":-0.11},{"f1":0.665,"gh":-0.216},
{"f1":0.604,"gh":0.315},{"f1":0.605,"gh":0.3},{"f1":0.606,"gh":0.29},{"f1":0.605,"gh":0.28},{"f1":0.607,"gh":0.27},{"f1":0.606,"gh":0.26},{"f1":0.608,"gh":0.25},{"f1":0.607,"gh":0.24},{"f1":0.609,"gh":0.23},{"f1":0.608,"gh":0.22},{"f1":0.61,"gh":0.21},{"f1":0.609,"gh":0.2},{"f1":0.611,"gh":0.19},{"f1":0.61,"gh":0.18},{"f1":0.612,"gh":0.17},{"f1":0.611,"gh":0.16},{"f1":0.612,"gh":0.15},{"f1":0.611,"gh":0.14},{"f1":0.613,"gh":0.13},{"f1":0.612,"gh":0.12},{"f1":0.613,"gh":0.11},{"f1":0.612,"gh":0.1},{"f1":0.614,"gh":0.09},{"f1":0.613,"gh":0.08},{"f1":0.614,"gh":0.07},{"f1":0.613,"gh":0.06},{"f1":0.614,"gh":0.05},{"f1":0.616,"gh":0.2},{"f1":0.617,"gh":0.16},{"f1":0.616,"gh":0.12},{"f1":0.618,"gh":0.26},{"f1":0.615,"gh":0.23},{"f1":0.62,"gh":0.05},
{"f1":0.814,"gh":-0.222},{"f1":0.82,"gh":-0.255},{"f1":0.838,"gh":-0.114},{"f1":0.847,"gh":-0.087},{"f1":0.841,"gh":-0.517},{"f1":0.864,"gh":-0.525},{"f1":0.864,"gh":-0.558}
]
},
"vconcat":[
{"hconcat":[
{"width":488,"height":344,"data":{"name":"ab"},
 "title":{"text":"(a) POF* found by DNSGA-II-A","orient":"bottom"},
 "layer":[
  {"mark":{"type":"point","shape":"triangle-up","filled":true,"size":26,"color":"#0000ff","opacity":1},
   "encoding":{
    "x":{"field":"f1","type":"quantitative","scale":{"domain":[0,0.9],"nice":false,"zero":false},"axis":{"values":[0,0.1,0.2,0.3,0.4,0.5,0.6,0.7,0.8,0.9],"title":"f1","labelExpr":"datum.value < 0 ? '-' + format(-datum.value, '~g') : format(datum.value, '~g')"}},
    "y":{"field":"gh","type":"quantitative","scale":{"domain":[-0.8,1],"nice":false,"zero":false},"axis":{"values":[-0.8,-0.6,-0.4,-0.2,0,0.2,0.4,0.6,0.8,1],"title":"gh","labelExpr":"datum.value < 0 ? '-' + format(-datum.value, '~g') : format(datum.value, '~g')"}}}},
  {"mark":{"type":"point","opacity":0},
   "encoding":{
    "x":{"field":"f1","type":"quantitative","axis":{"orient":"top","values":[0,0.1,0.2,0.3,0.4,0.5,0.6,0.7,0.8,0.9],"labels":false,"title":null}},
    "y":{"field":"gh","type":"quantitative","axis":{"orient":"right","values":[-0.8,-0.6,-0.4,-0.2,0,0.2,0.4,0.6,0.8,1],"labels":false,"title":null}}}}
 ],
 "resolve":{"axis":{"x":"independent","y":"independent"}}},
{"width":488,"height":344,"data":{"name":"ab"},
 "title":{"text":"(b) POF* found by DNSGA-II-B","orient":"bottom"},
 "layer":[
  {"mark":{"type":"point","shape":"triangle-up","filled":true,"size":26,"color":"#0000ff","opacity":1},
   "encoding":{
    "x":{"field":"f1","type":"quantitative","scale":{"domain":[0,0.9],"nice":false,"zero":false},"axis":{"values":[0,0.1,0.2,0.3,0.4,0.5,0.6,0.7,0.8,0.9],"title":"f1","labelExpr":"datum.value < 0 ? '-' + format(-datum.value, '~g') : format(datum.value, '~g')"}},
    "y":{"field":"gh","type":"quantitative","scale":{"domain":[-0.8,1],"nice":false,"zero":false},"axis":{"values":[-0.8,-0.6,-0.4,-0.2,0,0.2,0.4,0.6,0.8,1],"title":"gh","labelExpr":"datum.value < 0 ? '-' + format(-datum.value, '~g') : format(datum.value, '~g')"}}}},
  {"mark":{"type":"point","opacity":0},
   "encoding":{
    "x":{"field":"f1","type":"quantitative","axis":{"orient":"top","values":[0,0.1,0.2,0.3,0.4,0.5,0.6,0.7,0.8,0.9],"labels":false,"title":null}},
    "y":{"field":"gh","type":"quantitative","axis":{"orient":"right","values":[-0.8,-0.6,-0.4,-0.2,0,0.2,0.4,0.6,0.8,1],"labels":false,"title":null}}}}
 ],
 "resolve":{"axis":{"x":"independent","y":"independent"}}}
],"spacing":46},
{"hconcat":[
{"width":488,"height":344,"data":{"name":"c"},
 "title":{"text":"(c) POF* found by dCOEA","orient":"bottom"},
 "layer":[
  {"mark":{"type":"point","shape":"triangle-up","filled":true,"size":26,"color":"#0000ff","opacity":1},
   "encoding":{
    "x":{"field":"f1","type":"quantitative","scale":{"domain":[0,0.9],"nice":false,"zero":false},"axis":{"values":[0,0.1,0.2,0.3,0.4,0.5,0.6,0.7,0.8,0.9],"title":"f1","labelExpr":"datum.value < 0 ? '-' + format(-datum.value, '~g') : format(datum.value, '~g')"}},
    "y":{"field":"gh","type":"quantitative","scale":{"domain":[-0.8,1],"nice":false,"zero":false},"axis":{"values":[-0.8,-0.6,-0.4,-0.2,0,0.2,0.4,0.6,0.8,1],"title":"gh","labelExpr":"datum.value < 0 ? '-' + format(-datum.value, '~g') : format(datum.value, '~g')"}}}},
  {"mark":{"type":"point","opacity":0},
   "encoding":{
    "x":{"field":"f1","type":"quantitative","axis":{"orient":"top","values":[0,0.1,0.2,0.3,0.4,0.5,0.6,0.7,0.8,0.9],"labels":false,"title":null}},
    "y":{"field":"gh","type":"quantitative","axis":{"orient":"right","values":[-0.8,-0.6,-0.4,-0.2,0,0.2,0.4,0.6,0.8,1],"labels":false,"title":null}}}}
 ],
 "resolve":{"axis":{"x":"independent","y":"independent"}}},
{"width":488,"height":344,"data":{"name":"d"},
 "title":{"text":"(d) POF* found by DMOPSO","orient":"bottom"},
 "layer":[
  {"mark":{"type":"point","shape":"triangle-up","filled":true,"size":26,"color":"#0000ff","opacity":1},
   "encoding":{
    "x":{"field":"f1","type":"quantitative","scale":{"domain":[0,0.9],"nice":false,"zero":false},"axis":{"values":[0,0.1,0.2,0.3,0.4,0.5,0.6,0.7,0.8,0.9],"title":"f1","labelExpr":"datum.value < 0 ? '-' + format(-datum.value, '~g') : format(datum.value, '~g')"}},
    "y":{"field":"gh","type":"quantitative","scale":{"domain":[-0.8,1],"nice":false,"zero":false},"axis":{"values":[-0.8,-0.6,-0.4,-0.2,0,0.2,0.4,0.6,0.8,1],"title":"gh","labelExpr":"datum.value < 0 ? '-' + format(-datum.value, '~g') : format(datum.value, '~g')"}}}},
  {"mark":{"type":"point","opacity":0},
   "encoding":{
    "x":{"field":"f1","type":"quantitative","axis":{"orient":"top","values":[0,0.1,0.2,0.3,0.4,0.5,0.6,0.7,0.8,0.9],"labels":false,"title":null}},
    "y":{"field":"gh","type":"quantitative","axis":{"orient":"right","values":[-0.8,-0.6,-0.4,-0.2,0,0.2,0.4,0.6,0.8,1],"labels":false,"title":null}}}}
 ],
 "resolve":{"axis":{"x":"independent","y":"independent"}}}
],"spacing":46},
{"width":488,"height":344,"data":{"name":"e"},
 "title":{"text":"(e) POF* found by DVEPSO","orient":"bottom"},
 "layer":[
  {"mark":{"type":"point","shape":"triangle-up","filled":true,"size":26,"color":"#0000ff","opacity":1},
   "encoding":{
    "x":{"field":"f1","type":"quantitative","scale":{"domain":[0,0.9],"nice":false,"zero":false},"axis":{"values":[0,0.1,0.2,0.3,0.4,0.5,0.6,0.7,0.8,0.9],"title":"f1","labelExpr":"datum.value < 0 ? '-' + format(-datum.value, '~g') : format(datum.value, '~g')"}},
    "y":{"field":"gh","type":"quantitative","scale":{"domain":[-0.6,1.4],"nice":false,"zero":false},"axis":{"values":[-0.6,-0.4,-0.2,0,0.2,0.4,0.6,0.8,1,1.2,1.4],"title":"gh","labelExpr":"datum.value < 0 ? '-' + format(-datum.value, '~g') : format(datum.value, '~g')"}}}},
  {"mark":{"type":"point","opacity":0},
   "encoding":{
    "x":{"field":"f1","type":"quantitative","axis":{"orient":"top","values":[0,0.1,0.2,0.3,0.4,0.5,0.6,0.7,0.8,0.9],"labels":false,"title":null}},
    "y":{"field":"gh","type":"quantitative","axis":{"orient":"right","values":[-0.6,-0.4,-0.2,0,0.2,0.4,0.6,0.8,1,1.2,1.4],"labels":false,"title":null}}}}
 ],
 "resolve":{"axis":{"x":"independent","y":"independent"}}}
]
}
